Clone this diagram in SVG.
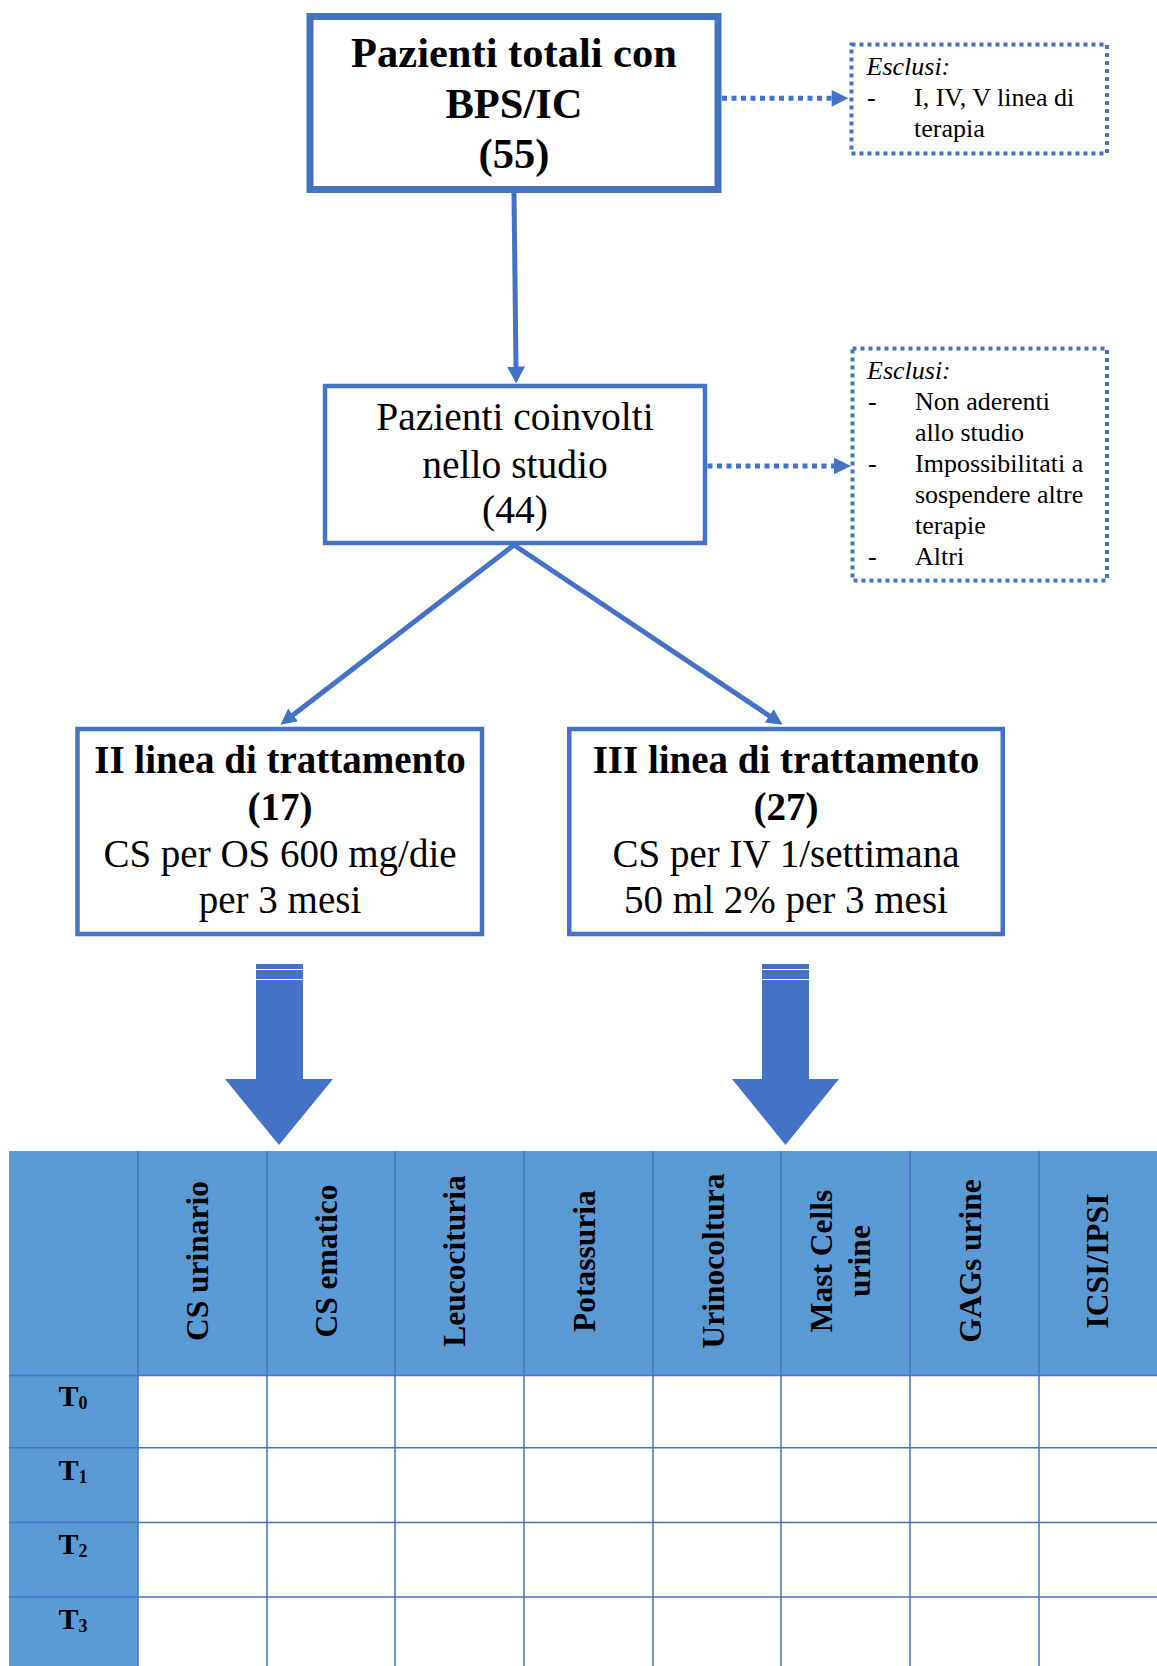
<svg xmlns="http://www.w3.org/2000/svg" width="1157" height="1666" viewBox="0 0 1157 1666">
<style>
.box{fill:#fff;stroke:#4472C4;stroke-width:4.5}
.thick{stroke-width:7}
.dot{fill:#fff;stroke:#4472C4;stroke-width:4;stroke-dasharray:4 4}
.t{font-family:"Liberation Serif","Times New Roman",serif;fill:#000}
.b{font-weight:bold}
.c{text-anchor:middle}
.big{font-size:42.5px}
.mid{font-size:39.5px}
.med{font-size:39px}
.sm{font-size:26px}
.hd{font-size:31.5px;font-weight:bold;text-anchor:middle}
.rl{font-size:30px;font-weight:bold}
.sub{font-size:18px}
.ln{stroke:#4472C4;stroke-width:5;fill:none}
.dl{stroke:#4472C4;stroke-width:5;fill:none;stroke-dasharray:5 4.5}
.hf{fill:#4472C4}
.grid{stroke:#4472C4;stroke-width:1.5}
.hdr{fill:#5B9BD5}
</style>
<defs>
<marker id="ah" markerUnits="userSpaceOnUse" viewBox="0 0 17 18" markerWidth="17" markerHeight="18" refX="0.5" refY="9" orient="auto">
<path d="M0,0 L17,9 L0,18 Z" fill="#4472C4"/>
</marker>
<marker id="ah2" markerUnits="userSpaceOnUse" viewBox="0 0 16 16" markerWidth="16" markerHeight="16" refX="0.5" refY="8" orient="auto">
<path d="M0,0 L16,8 L0,16 Z" fill="#4472C4"/>
</marker>
</defs>
<rect width="1157" height="1666" fill="#fff"/>

<g id="connectors">
<line class="ln" x1="514" y1="193" x2="516" y2="367" marker-end="url(#ah)"/>
<line class="ln" x1="514" y1="545" x2="292.7" y2="715.2" marker-end="url(#ah2)"/>
<line class="ln" x1="514" y1="545" x2="769.7" y2="716.1" marker-end="url(#ah2)"/>
<line class="dl" x1="722" y1="98.3" x2="832" y2="98.3"/>
<polygon class="hf" points="831.7,90 848.5,98.3 831.7,106.7"/>
<line class="dl" x1="707.5" y1="466" x2="834" y2="466"/>
<polygon class="hf" points="834,457.7 851,466 834,474.3"/>
<g id="blockarrow-left">
<path class="hf" d="M256,964 H303 V1079 H333 L279,1145 L225,1079 H256 Z"/>
<line x1="256" y1="969.5" x2="303" y2="969.5" stroke="#fff" stroke-width="1.2"/>
<line x1="256" y1="979.5" x2="303" y2="979.5" stroke="#fff" stroke-width="1.2"/>
</g>
<g id="blockarrow-right">
<path class="hf" d="M762,964 H809 V1079 H839 L785.5,1145 L732,1079 H762 Z"/>
<line x1="762" y1="969.5" x2="809" y2="969.5" stroke="#fff" stroke-width="1.2"/>
<line x1="762" y1="979.5" x2="809" y2="979.5" stroke="#fff" stroke-width="1.2"/>
</g>
</g>

<g id="node-totali">
<rect class="box thick" x="310" y="16.5" width="408" height="173"/>
<text class="t b c big" x="514" y="67">Pazienti totali con</text>
<text class="t b c big" x="514" y="118">BPS/IC</text>
<text class="t b c big" x="514" y="168">(55)</text>
</g>

<g id="node-esclusi-1">
<rect class="dot" x="851.5" y="44.5" width="255.5" height="109"/>
<text class="t sm" x="866.5" y="75" font-style="italic">Esclusi:</text>
<text class="t sm" x="867" y="106">-</text>
<text class="t sm" x="914" y="106">I, IV, V linea di</text>
<text class="t sm" x="914" y="137">terapia</text>
</g>

<g id="node-coinvolti">
<rect class="box" x="325" y="386" width="380" height="157"/>
<text class="t c mid" x="515" y="430">Pazienti coinvolti</text>
<text class="t c mid" x="515" y="478">nello studio</text>
<text class="t c mid" x="515" y="523">(44)</text>
</g>

<g id="node-esclusi-2">
<rect class="dot" x="852.5" y="348.5" width="254.5" height="232"/>
<text class="t sm" x="867" y="379" font-style="italic">Esclusi:</text>
<text class="t sm" x="868" y="410">-</text>
<text class="t sm" x="915" y="410">Non aderenti</text>
<text class="t sm" x="915" y="441">allo studio</text>
<text class="t sm" x="868" y="472">-</text>
<text class="t sm" x="915" y="472">Impossibilitati a</text>
<text class="t sm" x="915" y="503">sospendere altre</text>
<text class="t sm" x="915" y="534">terapie</text>
<text class="t sm" x="868" y="565">-</text>
<text class="t sm" x="915" y="565">Altri</text>
</g>

<g id="node-II-linea">
<rect class="box" x="77.5" y="729" width="404.5" height="205"/>
<text class="t b c med" x="280" y="773">II linea di trattamento</text>
<text class="t b c med" x="280" y="820">(17)</text>
<text class="t c med" x="280" y="867">CS per OS 600 mg/die</text>
<text class="t c med" x="280" y="913">per 3 mesi</text>
</g>

<g id="node-III-linea">
<rect class="box" x="569.25" y="729" width="433.5" height="205"/>
<text class="t b c med" x="786" y="773">III linea di trattamento</text>
<text class="t b c med" x="786" y="820">(27)</text>
<text class="t c med" x="786" y="867">CS per IV 1/settimana</text>
<text class="t c med" x="786" y="913">50 ml 2% per 3 mesi</text>
</g>

<g id="table">
<rect class="hdr" x="9" y="1151" width="1160" height="224.6"/>
<rect class="hdr" x="9" y="1375.6" width="129" height="300"/>
<g class="grid">
<line x1="138" y1="1151" x2="138" y2="1666"/>
<line x1="267" y1="1151" x2="267" y2="1666"/>
<line x1="395" y1="1151" x2="395" y2="1666"/>
<line x1="524" y1="1151" x2="524" y2="1666"/>
<line x1="653" y1="1151" x2="653" y2="1666"/>
<line x1="781" y1="1151" x2="781" y2="1666"/>
<line x1="910" y1="1151" x2="910" y2="1666"/>
<line x1="1039" y1="1151" x2="1039" y2="1666"/>
<line x1="9" y1="1375.6" x2="1157" y2="1375.6"/>
<line x1="9" y1="1447.7" x2="1157" y2="1447.7"/>
<line x1="9" y1="1522.5" x2="1157" y2="1522.5"/>
<line x1="9" y1="1597" x2="1157" y2="1597"/>
</g>
<text class="t hd" x="208" y="1261" transform="rotate(-90 208 1261)">CS urinario</text>
<text class="t hd" x="336.5" y="1261" transform="rotate(-90 336.5 1261)">CS ematico</text>
<text class="t hd" x="465" y="1261" transform="rotate(-90 465 1261)">Leucocituria</text>
<text class="t hd" x="594.5" y="1261" transform="rotate(-90 594.5 1261)">Potassuria</text>
<text class="t hd" x="723.5" y="1261" transform="rotate(-90 723.5 1261)">Urinocoltura</text>
<text class="t hd" x="832" y="1261" transform="rotate(-90 832 1261)">Mast Cells</text>
<text class="t hd" x="870" y="1261" transform="rotate(-90 870 1261)">urine</text>
<text class="t hd" x="981" y="1261" transform="rotate(-90 981 1261)">GAGs urine</text>
<text class="t hd" x="1108" y="1261" transform="rotate(-90 1108 1261)">ICSI/IPSI</text>
<text class="t rl" x="58.5" y="1406">T<tspan class="sub" dy="3">0</tspan></text>
<text class="t rl" x="58.5" y="1480">T<tspan class="sub" dy="3">1</tspan></text>
<text class="t rl" x="58.5" y="1554">T<tspan class="sub" dy="3">2</tspan></text>
<text class="t rl" x="58.5" y="1629">T<tspan class="sub" dy="3">3</tspan></text>
</g>
</svg>
